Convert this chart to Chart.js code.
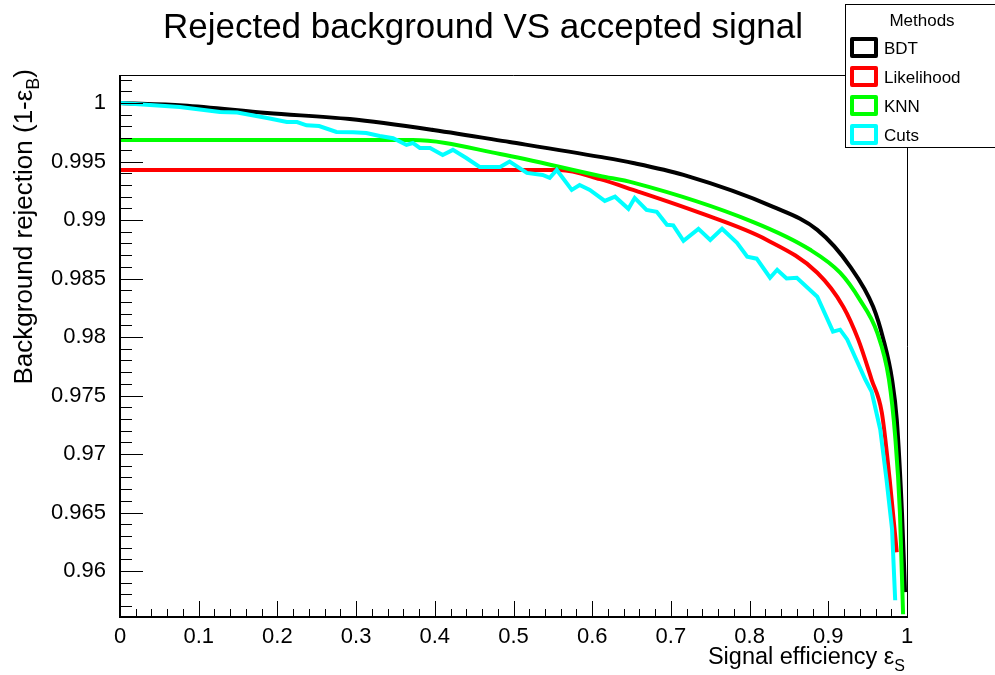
<!DOCTYPE html>
<html>
<head>
<meta charset="utf-8">
<script src="https://cdn.jsdelivr.net/npm/chart.js@4.4.1/dist/chart.umd.min.js"></script>
<style>
  html, body { margin: 0; padding: 0; background: #fff; }
  canvas { display: block; }
</style>
</head>
<body>
<canvas id="roc" width="995" height="675"></canvas>
<script>
// ROC curves
const bdtX = [0, 0.08, 0.187, 0.292, 0.398, 0.495, 0.61, 0.652, 0.716, 0.83, 0.886, 0.928, 0.957, 0.970, 0.981, 0.987, 0.9936, 0.9975]
const bdtY = [1.0000, 0.9998, 0.99915, 0.99863, 0.9977, 0.99667, 0.9954, 0.99488, 0.99386, 0.99113, 0.98916, 0.986, 0.98259, 0.9798, 0.97637, 0.97295, 0.965, 0.9582]

const likX = [0, 0.559, 0.61, 0.652, 0.737, 0.822, 0.886, 0.919, 0.938, 0.955, 0.968, 0.978, 0.987]
const likY = [0.99428, 0.99428, 0.9935, 0.99258, 0.99061, 0.9883, 0.9855, 0.9826, 0.9798, 0.97637, 0.97355, 0.9678, 0.9616]

const knnX = [0, 0.372, 0.483, 0.61, 0.652, 0.804, 0.877, 0.915, 0.940, 0.962, 0.977, 0.985, 0.991, 0.995]
const knnY = [0.99684, 0.99684, 0.99565, 0.99377, 0.9932, 0.98985, 0.98746, 0.9855, 0.9832, 0.9804, 0.9764, 0.9715, 0.965, 0.9563]

const cutsX = [0, 0.076, 0.127, 0.149, 0.187, 0.212, 0.225, 0.237, 0.253, 0.275, 0.296, 0.313, 0.33, 0.347,
  0.364, 0.372, 0.381, 0.394, 0.41, 0.423, 0.44, 0.457, 0.483, 0.495, 0.517, 0.537, 0.546, 0.555, 0.574,
  0.584, 0.597, 0.616, 0.629, 0.646, 0.654, 0.669, 0.682, 0.695, 0.703, 0.716, 0.735, 0.75, 0.765, 0.784,
  0.797, 0.809, 0.826, 0.835, 0.847, 0.86, 0.886, 0.906, 0.915, 0.924, 0.947, 0.955, 0.966, 0.974, 0.981, 0.985]
const cutsY = [1.0000, 0.99966, 0.99923, 0.9992, 0.99872, 0.99838, 0.99838, 0.9981, 0.99804, 0.99753, 0.9975, 0.99744, 0.99718, 0.997,
  0.99642, 0.99659, 0.99616, 0.99616, 0.99556, 0.996, 0.9953, 0.99454, 0.99454, 0.995, 0.99403, 0.99386, 0.9936, 0.99428, 0.99258,
  0.993, 0.99258, 0.99164, 0.992, 0.99096, 0.99189, 0.99087, 0.9907, 0.9896, 0.98955, 0.98823, 0.98925, 0.9883, 0.98925, 0.98805,
  0.98686, 0.9867, 0.98507, 0.98575, 0.985, 0.98507, 0.98345, 0.98046, 0.98063, 0.9798, 0.97637, 0.97534, 0.9721, 0.9678, 0.9636, 0.9575]

const xTickVals = [0, 0.1, 0.2, 0.3, 0.4, 0.5, 0.6, 0.7, 0.8, 0.9, 1]
const xTickLabels = ['0', '0.1', '0.2', '0.3', '0.4', '0.5', '0.6', '0.7', '0.8', '0.9', '1']
const yTickVals = [0.96, 0.965, 0.97, 0.975, 0.98, 0.985, 0.99, 0.995, 1]
const yTickLabels = ['0.96', '0.965', '0.97', '0.975', '0.98', '0.985', '0.99', '0.995', '1']

const FONT = "'Liberation Sans', Arial, Helvetica, sans-serif"

const toPoints = (xs, ys) => xs.map((x, i) => ({ x: x, y: ys[i] }))

const series = [
  { label: 'BDT', xs: bdtX, ys: bdtY, color: '#000000', order: 4, smooth: true },
  { label: 'Likelihood', xs: likX, ys: likY, color: '#ff0000', order: 3, smooth: true },
  { label: 'KNN', xs: knnX, ys: knnY, color: '#00ff00', order: 2, smooth: true },
  { label: 'Cuts', xs: cutsX, ys: cutsY, color: '#00ffff', order: 1, smooth: false }
]

// width of a text with one subscript run: [main, sub, after]
function subText(ctx, parts, size) {
  ctx.font = size + 'px ' + FONT
  const w0 = ctx.measureText(parts[0]).width
  ctx.font = Math.round(size * 0.7) + 'px ' + FONT
  const w1 = ctx.measureText(parts[1]).width
  ctx.font = size + 'px ' + FONT
  const w2 = ctx.measureText(parts[2] || '').width
  return { w: w0 + w1 + w2, w0: w0, w1: w1 }
}

function drawSubText(ctx, parts, size, x, y) {
  const m = subText(ctx, parts, size)
  ctx.textAlign = 'left'
  ctx.textBaseline = 'alphabetic'
  ctx.font = size + 'px ' + FONT
  ctx.fillText(parts[0], x, y)
  ctx.font = Math.round(size * 0.7) + 'px ' + FONT
  ctx.fillText(parts[1], x + m.w0, y + size * 0.28)
  ctx.font = size + 'px ' + FONT
  if (parts[2]) ctx.fillText(parts[2], x + m.w0 + m.w1, y)
  return m.w
}

const rootFrame = {
  id: 'rootFrame',
  afterDatasetsDraw(chart) {
    const ctx = chart.ctx
    const a = chart.chartArea
    const xs = chart.scales.x
    const ys = chart.scales.y
    ctx.save()
    ctx.strokeStyle = '#000'

    // tick marks, inside the frame
    ctx.lineWidth = 1
    ctx.beginPath()
    for (let i = 0; i <= 50; i++) {
      const v = i * 0.02
      const px = Math.round(xs.getPixelForValue(v)) + 0.5
      const len = (i % 5 === 0) ? 16 : 8
      ctx.moveTo(px, a.bottom)
      ctx.lineTo(px, a.bottom - len)
    }
    for (let i = 957; i <= 1002; i++) {
      const v = i / 1000
      const py = Math.round(ys.getPixelForValue(v)) + 0.5
      const len = (i % 5 === 0) ? 23 : 12
      ctx.moveTo(a.left, py)
      ctx.lineTo(a.left + len, py)
    }
    ctx.stroke()

    // frame
    ctx.lineWidth = 1
    ctx.beginPath()
    ctx.moveTo(a.left, a.top + 0.5)
    ctx.lineTo(a.right + 0.5, a.top + 0.5)
    ctx.lineTo(a.right + 0.5, a.bottom)
    ctx.stroke()
    ctx.lineWidth = 2
    ctx.beginPath()
    ctx.moveTo(a.left, a.top)
    ctx.lineTo(a.left, a.bottom)
    ctx.lineTo(a.right + 1, a.bottom)
    ctx.stroke()
    ctx.restore()
  },
  afterDraw(chart) {
    const ctx = chart.ctx
    const a = chart.chartArea
    ctx.save()
    ctx.fillStyle = '#000'

    // main title
    ctx.font = '35px ' + FONT
    ctx.textAlign = 'center'
    ctx.textBaseline = 'alphabetic'
    ctx.fillText('Rejected background VS accepted signal', 483, 38)

    // x axis title, right aligned to the frame
    const xt = ['Signal efficiency \u03b5', 'S', '']
    const xm = subText(ctx, xt, 23.5)
    drawSubText(ctx, xt, 23.5, a.right - 2 - xm.w, 664)

    // y axis title, rotated, aligned to the top
    const yt = ['Background rejection (1-\u03b5', 'B', ')']
    const ym = subText(ctx, yt, 26)
    ctx.save()
    ctx.translate(32, a.top - 6)
    ctx.rotate(-Math.PI / 2)
    drawSubText(ctx, yt, 26, -ym.w, 0)
    ctx.restore()

    // legend box
    ctx.fillStyle = '#fff'
    ctx.fillRect(845, 4, 160, 144)
    ctx.strokeStyle = '#000'
    ctx.lineWidth = 1
    ctx.strokeRect(845.5, 4.5, 160, 143)
    ctx.fillStyle = '#000'
    ctx.font = '17px ' + FONT
    ctx.textAlign = 'center'
    ctx.fillText('Methods', 922, 26)
    ctx.textAlign = 'left'
    chart.data.datasets.forEach((ds, i) => {
      const cy = 47 + i * 29
      ctx.strokeStyle = ds.borderColor
      ctx.lineWidth = 4
      ctx.lineJoin = 'round'
      ctx.strokeRect(852, cy - 8, 24, 17)
      ctx.fillStyle = '#000'
      ctx.fillText(ds.label, 884, cy + 7)
    })
    ctx.restore()
  }
}

new Chart(document.getElementById('roc'), {
  type: 'scatter',
  data: {
    datasets: series.map(s => ({
      label: s.label,
      data: toPoints(s.xs, s.ys),
      showLine: true,
      borderColor: s.color,
      backgroundColor: s.color,
      borderWidth: 4,
      pointRadius: 0,
      cubicInterpolationMode: s.smooth ? 'monotone' : 'default',
      tension: 0,
      order: s.order
    }))
  },
  options: {
    responsive: false,
    animation: false,
    layout: { padding: { top: 75, right: 88, left: 0, bottom: 0 } },
    plugins: {
      legend: { display: false },
      title: { display: false },
      tooltip: { enabled: false }
    },
    scales: {
      x: {
        type: 'linear',
        min: 0,
        max: 1,
        grid: { display: false },
        border: { display: false },
        afterFit: s => { s.height = 58 },
        afterBuildTicks: s => { s.ticks = xTickVals.map(v => ({ value: v })) },
        ticks: {
          autoSkip: false,
          maxRotation: 0,
          padding: -1,
          color: '#000',
          font: { family: FONT, size: 22 },
          callback: (v, i) => xTickLabels[i]
        }
      },
      y: {
        type: 'linear',
        min: 0.95607,
        max: 1.0024,
        grid: { display: false },
        border: { display: false },
        afterFit: s => { s.width = 120 },
        afterBuildTicks: s => { s.ticks = yTickVals.map(v => ({ value: v })) },
        ticks: {
          autoSkip: false,
          padding: 6,
          color: '#000',
          font: { family: FONT, size: 22 },
          callback: (v, i) => yTickLabels[i]
        }
      }
    }
  },
  plugins: [rootFrame]
})
</script>
</body>
</html>
